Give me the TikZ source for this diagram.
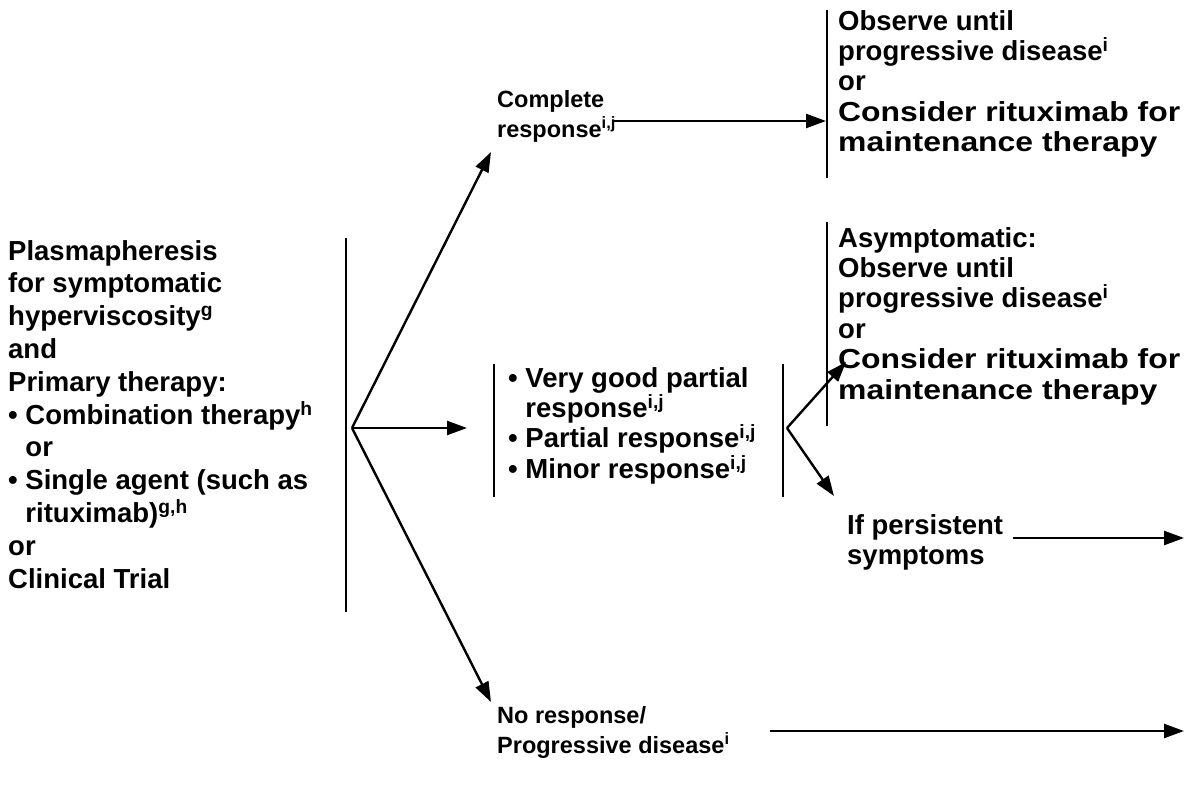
\documentclass[tikz,border=0pt]{standalone}
\usepackage{fontspec}
\setmainfont{Liberation Sans}
\usetikzlibrary{arrows.meta}
\newcommand{\widetxt}[1]{\scalebox{1.16}[1]{#1}}
\begin{document}
\begin{tikzpicture}[x=1pt,y=-1pt,
  txt/.style={anchor=north west,inner sep=0pt,align=left,font=\fontsize{27.5}{30.4}\selectfont\bfseries},
  lefttxt/.style={txt,font=\fontsize{27.5}{32.8}\selectfont\bfseries},
  smalltxt/.style={txt,font=\fontsize{23.5}{30}\selectfont\bfseries},
  bar/.style={line width=2.4pt},
  arr/.style={line width=2.4pt,-{Triangle[length=20pt,width=14pt]}}]
\useasboundingbox (0,0) rectangle (1184,794);
% left block
\node[lefttxt] (left) at (8,240) {Plasmapheresis\\for symptomatic\\hyperviscosity\textsuperscript{g}\\and\\Primary therapy:\\• Combination therapy\textsuperscript{h}\\\phantom{• }or\\• Single agent (such as\\\phantom{• }rituximab)\textsuperscript{g,h}\\or\\Clinical Trial};
\coordinate (lbt) at (346,238);
\coordinate (lbb) at (346,612);
\draw[bar] (lbt) -- (lbb);
\coordinate (fan) at (352,428);
\coordinate (toptip) at (491,152);
\coordinate (midtip) at (467,428);
\coordinate (bottip) at (491,702);
\draw[arr] (fan) -- (toptip);
\draw[arr] (fan) -- (midtip);
\draw[arr] (fan) -- (bottip);
% complete response
\node[smalltxt] (cr) at (497,90) {Complete\\response\textsuperscript{i,j}};
\coordinate (crs) at (613,121);
\coordinate (cre) at (826,121);
\draw[arr] (crs) -- (cre);
\coordinate (rb1t) at (827,10);
\coordinate (rb1b) at (827,178);
\draw[bar] (rb1t) -- (rb1b);
\node[txt] (obs) at (838,10) {Observe until\\progressive disease\textsuperscript{i}\\or\\\widetxt{Consider rituximab for}\\\widetxt{maintenance therapy}};
% middle
\coordinate (mbt) at (494,364);
\coordinate (mbb) at (494,497);
\draw[bar] (mbt) -- (mbb);
\node[txt] (mid) at (508,367) {• Very good partial\\\phantom{• }response\textsuperscript{i,j}\\• Partial response\textsuperscript{i,j}\\• Minor response\textsuperscript{i,j}};
\coordinate (mb2t) at (783,364);
\coordinate (mb2b) at (783,497);
\draw[bar] (mb2t) -- (mb2b);
\coordinate (fan2) at (787,428);
\coordinate (asytip) at (846,362);
\coordinate (perstip) at (834,496);
\draw[arr] (fan2) -- (asytip);
\draw[arr] (fan2) -- (perstip);
\coordinate (rb2t) at (827,222);
\coordinate (rb2b) at (827,426);
\draw[bar] (rb2t) -- (rb2b);
\node[txt] (asy) at (838,227) {Asymptomatic:\\Observe until\\progressive disease\textsuperscript{i}\\or\\\widetxt{Consider rituximab for}\\\widetxt{maintenance therapy}};
\node[txt] (pers) at (847,514) {If persistent\\symptoms};
\coordinate (pss) at (1013,538);
\coordinate (pse) at (1184,538);
\draw[arr] (pss) -- (pse);
% no response
\node[smalltxt] (nr) at (497,706) {No response/\\Progressive disease\textsuperscript{i}};
\coordinate (nrs) at (770,731);
\coordinate (nre) at (1184,731);
\draw[arr] (nrs) -- (nre);
\end{tikzpicture}
\end{document}
